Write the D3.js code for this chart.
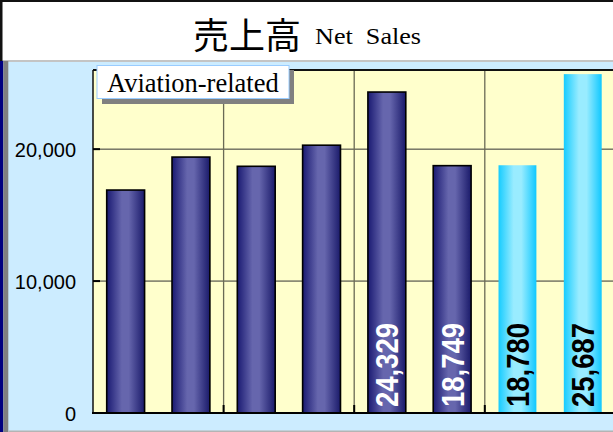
<!DOCTYPE html>
<html>
<head>
<meta charset="utf-8">
<script src="https://cdn.jsdelivr.net/npm/d3@7/dist/d3.min.js"></script>
<style>
  html, body { margin: 0; padding: 0; background: #fff; }
  svg { display: block; }
</style>
</head>
<body>
<script>
// ---- data ----
const categories = ["P1", "P2", "P3", "P4", "P5", "P6", "P7", "P8"];
const salesValues = [16900, 19400, 18700, 20300, 24329, 18749, 18780, 25687];
const barKinds = ["actual", "actual", "actual", "actual", "actual", "actual", "plan", "plan"];
const valueLabels = [null, null, null, null, "24,329", "18,749", "18,780", "25,687"];
const yTickValues = [0, 10000, 20000];
const titleJa = "売上高";
const titleEn = "Net  Sales";
const segmentLabel = "Aviation-related";

const W = 613, H = 432;
const svg = d3.select("body").append("svg").attr("width", W).attr("height", H);

const defs = svg.append("defs");
const gNavy = defs.append("linearGradient").attr("id", "gNavy").attr("x1", "0").attr("x2", "1").attr("y1", "0").attr("y2", "0");
[["0%", "#1a1a72"], ["40%", "#6666ad"], ["58%", "#6666ad"], ["100%", "#1a1a6a"]].forEach(s => gNavy.append("stop").attr("offset", s[0]).attr("stop-color", s[1]));
const gCyan = defs.append("linearGradient").attr("id", "gCyan").attr("x1", "0").attr("x2", "1").attr("y1", "0").attr("y2", "0");
[["0%", "#16ccff"], ["40%", "#99ecff"], ["60%", "#99ecff"], ["100%", "#10c8ff"]].forEach(s => gCyan.append("stop").attr("offset", s[0]).attr("stop-color", s[1]));

// backgrounds
svg.append("rect").attr("x", 0).attr("y", 0).attr("width", W).attr("height", H).attr("fill", "#ccecff");
svg.append("rect").attr("x", 0).attr("y", 0).attr("width", W).attr("height", 61).attr("fill", "#ffffff");
svg.append("rect").attr("x", 0).attr("y", 60).attr("width", W).attr("height", 2).attr("fill", "#c4c4c4");
svg.append("rect").attr("x", 0).attr("y", 0).attr("width", W).attr("height", 2).attr("fill", "#111");
svg.append("rect").attr("x", 0).attr("y", 0).attr("width", 2.5).attr("height", 61).attr("fill", "#111");
svg.append("rect").attr("x", 0).attr("y", 61).attr("width", 3.3).attr("height", H - 61).attr("fill", "#000080");
svg.append("rect").attr("x", 3.3).attr("y", 61).attr("width", 5).attr("height", H - 61).attr("fill", "#808080");
svg.append("rect").attr("x", 8.3).attr("y", 430.5).attr("width", W).attr("height", 1.5).attr("fill", "#b4b4b4");

// title
svg.append("text")
  .attr("x", 193).attr("y", 48.5)
  .attr("font-family", "'Noto Sans CJK JP', 'Noto Sans CJK SC', sans-serif")
  .attr("font-size", 36).attr("fill", "#000")
  .text(titleJa);
svg.append("text")
  .attr("transform", "translate(315,44) scale(1.09,1)")
  .attr("font-family", "'Liberation Serif', 'Times New Roman', serif")
  .attr("font-size", 24).attr("fill", "#000")
  .style("white-space", "pre")
  .text(titleEn);

// scales
const plotL = 93, plotR = 615.4, plotT = 70, plotB = 413;
const x = d3.scaleBand().domain(categories).range([plotL, plotR]).paddingInner(0.42).paddingOuter(0.21);
const y = d3.scaleLinear().domain([0, 26000]).range([plotB, plotT]);
const step = x.step();

// plot area
svg.append("rect").attr("x", plotL).attr("y", plotT).attr("width", plotR - plotL).attr("height", plotB - plotT).attr("fill", "#ffffcc");

// horizontal gridlines
svg.append("g").selectAll("line").data(yTickValues.filter(v => v > 0)).join("line")
  .attr("x1", plotL).attr("x2", plotR).attr("y1", d => y(d)).attr("y2", d => y(d))
  .attr("stroke", "#333").attr("stroke-width", 1);

// vertical gridlines every 2 categories
const boundaries = categories.filter((c, i) => i % 2 === 0 && i > 0);
svg.append("g").selectAll("line").data(boundaries).join("line")
  .attr("x1", d => x(d) - x.paddingInner() * step / 2).attr("x2", d => x(d) - x.paddingInner() * step / 2)
  .attr("y1", plotT).attr("y2", plotB)
  .attr("stroke", "#6a6a55").attr("stroke-width", 1.3);
svg.append("g").selectAll("line").data(boundaries).join("line")
  .attr("x1", d => x(d) - x.paddingInner() * step / 2).attr("x2", d => x(d) - x.paddingInner() * step / 2)
  .attr("y1", plotB - 8).attr("y2", plotB)
  .attr("stroke", "#000").attr("stroke-width", 2);

// bars
const data = categories.map((c, i) => ({ c, v: salesValues[i], kind: barKinds[i], label: valueLabels[i] }));
svg.append("g").selectAll("rect").data(data).join("rect")
  .attr("x", d => x(d.c)).attr("width", x.bandwidth())
  .attr("y", d => y(d.v)).attr("height", d => y(0) - y(d.v))
  .attr("fill", d => d.kind === "actual" ? "url(#gNavy)" : "url(#gCyan)")
  .attr("stroke", d => d.kind === "actual" ? "#000" : "none")
  .attr("stroke-width", 1.6);

// plot borders
svg.append("line").attr("x1", plotL).attr("x2", plotR).attr("y1", plotT).attr("y2", plotT).attr("stroke", "#111").attr("stroke-width", 2);
svg.append("line").attr("x1", plotL).attr("x2", plotL).attr("y1", plotT).attr("y2", plotB).attr("stroke", "#111").attr("stroke-width", 1.5);
svg.append("line").attr("x1", plotL - 1).attr("x2", plotR).attr("y1", plotB).attr("y2", plotB).attr("stroke", "#000").attr("stroke-width", 2);

// y axis
const yAxis = d3.axisLeft(y).tickValues(yTickValues).tickSize(0).tickPadding(17).tickFormat(d3.format(","));
const ga = svg.append("g").attr("transform", `translate(${plotL},0)`).call(yAxis);
ga.select(".domain").remove();
ga.selectAll("text").attr("font-family", "'Liberation Sans', Arial, sans-serif").attr("font-size", 20).attr("fill", "#000").attr("dy", "0.36em");
svg.append("g").selectAll("line").data(yTickValues).join("line")
  .attr("x1", plotL).attr("x2", plotL + 7).attr("y1", d => y(d)).attr("y2", d => y(d))
  .attr("stroke", "#000").attr("stroke-width", 2);

// segment label box
svg.append("rect").attr("x", 102).attr("y", 70).attr("width", 192).attr("height", 34).attr("fill", "#808080");
svg.append("rect").attr("x", 97).attr("y", 65.5).attr("width", 192).attr("height", 33).attr("fill", "#fff").attr("stroke", "#99ccff").attr("stroke-width", 1);
svg.append("text").attr("x", 107).attr("y", 91.5)
  .attr("font-family", "'Liberation Serif', 'Times New Roman', serif")
  .attr("font-size", 26.5).attr("fill", "#000").text(segmentLabel);

// value labels
svg.append("g").selectAll("text").data(data.filter(d => d.label)).join("text")
  .attr("transform", d => `translate(${x(d.c) + x.bandwidth() / 2 + 11.5},407) rotate(-90)`)
  .attr("font-family", "'Liberation Sans', Arial, sans-serif")
  .attr("font-weight", "bold").attr("font-size", 32)
  .attr("textLength", 84).attr("lengthAdjust", "spacingAndGlyphs")
  .attr("fill", d => d.kind === "actual" ? "#fff" : "#000")
  .text(d => d.label);
</script>
</body>
</html>
